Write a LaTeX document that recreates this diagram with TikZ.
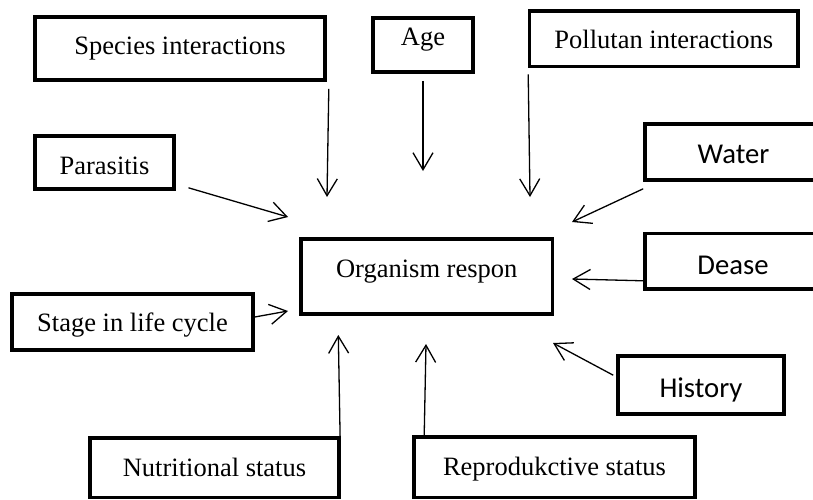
\documentclass[tikz,border=0pt]{standalone}
\usepackage{fontspec}
\setmainfont{Liberation Serif}
\newfontfamily\calfont{Carlito}
\usetikzlibrary{arrows.meta}

\begin{document}
\begin{tikzpicture}[x=1pt,y=-1pt,
  box/.style={draw, line width=3.6pt, inner sep=0pt, text depth=0pt,
              font=\fontsize{26.5}{30}\selectfont},
  sbox/.style={box, font=\calfont\fontsize{28.7}{32}\selectfont},
  arr/.style={line width=1.3pt, -{Straight Barb[length=17pt,width=20pt,line width=1.3pt]}}
]
\useasboundingbox (0,0) rectangle (813,500);

% factor boxes (text height sets where the baseline sits in each box)
\node[box, minimum width=290, minimum height=63, text height=11.6pt] (spec) at (180,48.5) {Species interactions};
\node[box, minimum width=100, minimum height=54, text height=1.2pt] (age) at (423,45) {Age};
\node[box, minimum width=268.5, minimum height=55.5, text height=20.5pt] (poll) at (663.75,38.75) {Pollutan interactions};
\node[box, minimum width=139, minimum height=53, text height=23pt] (par) at (104.5,162.5) {Parasitis};
\node[sbox, minimum width=177, minimum height=56, text height=22.6pt] (water) at (733.5,152) {Water};
\node[sbox, minimum width=176, minimum height=55.5, text height=25.5pt] (dease) at (733,261.25) {Dease};
\node[box, minimum width=251.5, minimum height=75, text height=2.4pt] (org) at (426.75,276.5) {Organism respon};
\node[box, minimum width=241, minimum height=56, text height=19.4pt] (stage) at (132.5,322) {Stage in life cycle};
\node[sbox, minimum width=166, minimum height=58, text height=25.4pt] (hist) at (701,385) {History};
\node[box, minimum width=249, minimum height=59.5, text height=18pt] (nut) at (214.5,467.75) {Nutritional status};
\node[box, minimum width=281, minimum height=60.5, text height=17pt] (rep) at (554.5,467.25) {Reprodukctive status};

% arrow tips pointing at the response box
\coordinate (tSpec) at (327,197);
\coordinate (tAge) at (423,171);
\coordinate (tPoll) at (530,197);
\coordinate (tPar) at (288,217);
\coordinate (tWater) at (572,222);
\coordinate (tDease) at (572,279);
\coordinate (tStage) at (288,311);
\coordinate (tHist) at (553,343);
\coordinate (tNut) at (338.3,335);
\coordinate (tRep) at (426,344);

\draw[arr] ([shift={(2,7)}]spec.south east) -- (tSpec);
\draw[arr] ([shift={(0,7)}]age.south) -- (tAge);
\draw[arr] ([shift={(0.5,6)}]poll.south west) -- (tPoll);
\draw[arr] ([shift={(12.7,-3)}]par.south east) -- (tPar);
\draw[arr] ([shift={(0,7)}]water.south west) -- (tWater);
\draw[arr] ([shift={(0,-10)}]dease.south west) -- (tDease);
\draw[arr] ([shift={(0,-5)}]stage.east) -- (tStage);
\draw[arr] ([shift={(-3,21)}]hist.north west) -- (tHist);
\draw[arr] ([shift={(-0.7,0)}]nut.north east) -- (tNut);
\draw[arr] ([shift={(12,0)}]rep.north west) -- (tRep);
\end{tikzpicture}
\end{document}
